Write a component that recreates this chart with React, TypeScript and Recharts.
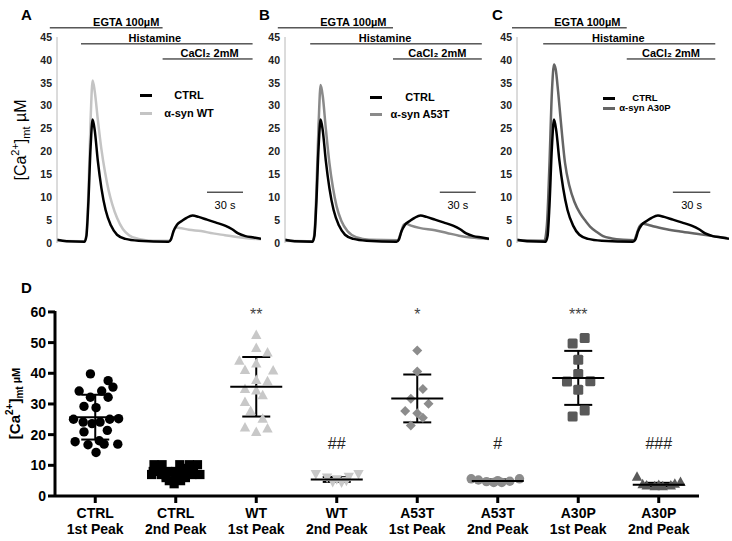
import React from 'react';
import {
  LineChart, Line, XAxis, YAxis, ReferenceLine, Legend, Label,
  ScatterChart, Scatter, ErrorBar,
} from 'recharts';

const FONT = 'Arial, "Liberation Sans", Helvetica, sans-serif';

// ---------- Panels A–C : [time (s), [Ca2+]mt (µM)]
const ctrlTrace: [number, number][] = [
  [0, 0.7], [8, 0.4], [23, 0.3], [24.5, 1.5], [26, 8], [28, 21], [29.7, 27], [31.5, 24.5],
  [34, 18], [37, 12], [40.5, 7.2], [45, 3.8], [50, 1.8], [57, 0.9], [68, 0.5], [93, 0.3],
  [95, 0.8], [97, 2.5], [100, 4.0], [104, 4.8], [108, 5.5], [113, 6.0], [118, 5.7], [125, 5.1],
  [132, 4.5], [140, 3.8], [146, 3.0], [151, 2.1], [157, 1.5], [164, 1.2], [170, 0.9],
];
const wtTrace: [number, number][] = [
  [0, 0.5], [23, 0.4], [24.5, 2], [26, 10], [28, 27], [29.7, 35.5], [31.5, 33], [34, 27],
  [37, 20.5], [40, 15.5], [43, 11.5], [46, 8.5], [50, 5.5], [55, 3], [60, 1.7], [68, 0.9],
  [80, 0.5], [94, 0.5], [96, 1.6], [98.5, 3.4], [102, 3.3], [110, 2.9], [120, 2.6], [130, 2.1],
  [140, 1.7], [150, 1.3], [160, 1.0], [170, 0.8],
];
const a53tTrace: [number, number][] = [
  [0, 0.5], [23, 0.4], [24.5, 2], [26, 10], [28, 26], [29.7, 34.5], [31.5, 32], [34, 25],
  [37, 17.5], [40, 12], [43, 8], [47, 4.8], [52, 2.6], [60, 1.2], [70, 0.7], [94, 0.6],
  [96, 1.8], [99, 4.0], [101, 4.2], [105, 3.8], [112, 3.3], [125, 2.8], [135, 2.2], [145, 1.6],
  [155, 1.2], [170, 0.9],
];
const a30pTrace: [number, number][] = [
  [0, 0.6], [22, 0.5], [24, 4], [26, 17], [28, 33], [29.7, 39], [31, 38], [33, 33], [35, 27],
  [38.5, 17.5], [42, 12.5], [46, 9], [50.5, 6.5], [55, 4.8], [58.6, 3.6], [64, 2.4], [69, 1.5],
  [76, 1.0], [85, 0.7], [94, 0.6], [96, 2], [98, 3.5], [101, 4.2], [105, 4.0], [110, 3.6],
  [120, 3.0], [131, 2.5], [144, 2.0], [157, 1.5], [168, 1.1],
];
const traceYTicks = [0, 5, 10, 15, 20, 25, 30, 35, 40, 45];

// treatments: [label, start s, end s, level µM]
const treatmentsA: [string, number, number, number][] = [
  ['EGTA 100µM', -6, 88, 47], ['Histamine', 20, 163, 43.5], ['CaCl₂ 2mM', 88, 163, 40.2],
];
const treatmentsB: [string, number, number, number][] = [
  ['EGTA 100µM', -6, 90, 47], ['Histamine', 21, 164, 43.5], ['CaCl₂ 2mM', 90, 164, 40.2],
];
const treatmentsC: [string, number, number, number][] = [
  ['EGTA 100µM', -4, 88, 47], ['Histamine', 21, 159, 43.5], ['CaCl₂ 2mM', 88, 159, 40.2],
];
// 30 s scale bars: [start s, end s, level µM]
const scaleBarA: [number, number, number] = [125, 155, 11.1];
const scaleBarB: [number, number, number] = [129, 159, 11.1];
const scaleBarC: [number, number, number] = [125, 155, 11.1];

// ---------- Panel D
const catLine1 = ['CTRL', 'CTRL', 'WT', 'WT', 'A53T', 'A53T', 'A30P', 'A30P'];
const catLine2 = ['1st Peak', '2nd Peak', '1st Peak', '2nd Peak', '1st Peak', '2nd Peak', '1st Peak', '2nd Peak'];
// [value µM, horizontal spread within column]
const ctrl1st: [number, number][] = [
  [39.8, -0.06], [37.6, 0.16], [35.5, 0.22], [34.2, -0.2], [34.2, 0.08], [32.2, -0.06], [32.2, 0.16],
  [29.2, -0.14], [28.8, 0.01], [25.0, -0.27], [24.1, -0.15], [23.6, -0.04], [24.1, 0.06], [25.0, 0.18],
  [25.2, 0.29], [20.9, -0.14], [21.4, 0.15], [17.7, -0.25], [18.0, 0.05], [16.7, -0.09], [16.9, 0.11],
  [16.9, 0.28], [14.2, 0.01],
];
const ctrl2nd: [number, number][] = [
  [10.2, -0.27], [10.2, -0.17], [10.2, 0.05], [10.2, 0.17], [10.2, 0.27],
  [9.0, -0.2], [9.0, 0.1], [9.0, 0.22],
  [8.0, -0.28], [8.0, -0.1], [8.0, 0.0], [8.0, 0.15],
  [7.0, -0.3], [7.0, -0.18], [7.0, 0.06], [7.0, 0.2], [7.0, 0.3],
  [6.0, -0.12], [6.0, 0.0], [6.0, 0.12], [5.0, -0.08], [5.0, 0.06], [4.0, -0.02],
];
const wt1st: [number, number][] = [
  [52.5, 0], [48.2, 0], [46.8, 0.14], [44.1, -0.21], [43.2, 0], [41.1, -0.14], [40.9, 0.21],
  [37.8, 0], [37.4, 0.14], [34.9, -0.14], [34.4, 0], [32.8, 0.08], [30.6, -0.14], [27.7, -0.07],
  [25.2, 0.08], [22.3, -0.14], [20.9, 0], [22.0, 0.14],
];
const wt2nd: [number, number][] = [
  [7.2, -0.26], [7.2, 0.27], [6.0, -0.12], [5.5, 0.0], [5.0, 0.12], [4.6, -0.05], [4.4, 0.06], [6.3, 0.15],
];
const a53t1st: [number, number][] = [
  [47.4, 0], [40.6, 0], [34.9, 0.07], [31.7, -0.08], [30.1, 0.14], [27.7, -0.15], [27.0, 0],
  [25.5, 0.07], [23.0, -0.08],
];
const a53t2nd: [number, number][] = [
  [5.6, -0.33], [5.2, -0.24], [4.7, -0.14], [4.4, -0.05], [4.4, 0.05], [4.8, 0.15], [5.6, 0.27], [5.0, 0.0],
];
const a30p1st: [number, number][] = [
  [51.5, 0.08], [49.7, -0.07], [44.4, 0], [39.8, 0], [37.3, -0.14], [37.4, 0.15], [34.6, 0],
  [27.9, 0.08], [25.9, -0.07],
];
const a30p2nd: [number, number][] = [
  [6.3, -0.27], [4.6, 0.27], [3.4, -0.15], [3.2, -0.05], [3.2, 0.05], [3.4, 0.15], [3.8, -0.2], [4.0, 0.2], [3.6, 0.0],
];
// mean, SD per column
const colMeans = [25.7, 7.0, 35.6, 5.4, 31.8, 4.9, 38.5, 3.7];
const colSDs = [7.3, 1.6, 9.7, 0.8, 7.8, 0.5, 8.8, 0.6];
// significance marks: [column, text, level µM]
const sigMarks: [number, string, number][] = [
  [2, '**', 60.3], [4, '*', 60.3], [6, '***', 60.3],
  [3, '##', 17.2], [5, '#', 17.2], [7, '###', 17.2],
];
const dYTicks = [0, 10, 20, 30, 40, 50, 60];

const toTrace = (a: [number, number][]) => a.map(([t, v]) => ({ t, v }));
const toCol = (a: [number, number][], col: number) => a.map(([v, o]) => ({ x: col + o, y: v }));

// ---------- helpers
const CaLabel = ({ x, y, size, bold }: any) => {
  const small = Math.round(size * 0.66);
  return (
    <text transform={`rotate(-90, ${x}, ${y})`} x={x} y={y} textAnchor="middle"
      fontSize={size} fontWeight={bold ? 'bold' : 'normal'} fontFamily={FONT} fill="#000">
      [Ca<tspan dy={-size * 0.42} fontSize={small}>2+</tspan>
      <tspan dy={size * 0.42}>]</tspan>
      <tspan dy={size * 0.22} fontSize={small}>mt</tspan>
      <tspan dy={-size * 0.22} fontSize={bold ? small + 1 : size}> µM</tspan>
    </text>
  );
};

const TreatLabel = ({ viewBox, value, dx }: any) => {
  if (!viewBox) return null;
  const cx = viewBox.x + viewBox.width / 2 + (dx || 0);
  return (
    <text x={cx} y={viewBox.y - 2} textAnchor="middle" fontSize={11} fontWeight="bold"
      fontFamily={FONT} fill="#000">{value}</text>
  );
};

const ScaleLabel = ({ viewBox }: any) => {
  if (!viewBox) return null;
  return (
    <text x={viewBox.x + viewBox.width / 2} y={viewBox.y + 17} textAnchor="middle" fontSize={11}
      fontFamily={FONT} fill="#000">30 s</text>
  );
};

const TraceLegend = ({ items, rowH, fontSize, textW }: any) => (
  <div style={{ fontFamily: FONT }}>
    {items.map((it: any) => (
      <div key={it.name} style={{ display: 'flex', alignItems: 'center', height: rowH }}>
        <div style={{ width: 12, height: 3, background: it.color }} />
        <div style={{ width: textW, marginLeft: 4, textAlign: 'center', fontSize, fontWeight: 'bold', lineHeight: rowH + 'px', whiteSpace: 'nowrap' }}>{it.name}</div>
      </div>
    ))}
  </div>
);

const panels = [
  {
    letter: 'A', left: 0, width: 266, mLeft: 7, axisW: 50, mRight: 5, yLabel: true,
    series: [{ name: 'CTRL', color: '#000', data: ctrlTrace }, { name: 'α-syn WT', color: '#c4c4c4', data: wtTrace }],
    treatments: treatmentsA, dxs: [20, -12, 2], scaleBar: scaleBarA,
    legend: { left: 140, top: 86, rowH: 18, fontSize: 11, textW: 66 },
  },
  {
    letter: 'B', left: 240, width: 254, mLeft: 5, axisW: 40, mRight: 5, yLabel: false,
    series: [{ name: 'CTRL', color: '#000', data: ctrlTrace }, { name: 'α-syn A53T', color: '#8a8a8a', data: a53tTrace }],
    treatments: treatmentsB, dxs: [18, -11, 0], scaleBar: scaleBarB,
    legend: { left: 130, top: 89, rowH: 17, fontSize: 11, textW: 68 },
  },
  {
    letter: 'C', left: 475, width: 257, mLeft: 2, axisW: 40, mRight: 3, yLabel: false,
    series: [{ name: 'CTRL', color: '#000', data: ctrlTrace }, { name: 'α-syn A30P', color: '#656565', data: a30pTrace }],
    treatments: treatmentsC, dxs: [18, -11, 0], scaleBar: scaleBarC,
    legend: { left: 128, top: 93, rowH: 10, fontSize: 9.5, textW: 52 },
  },
];

function TracePanel({ p }: any) {
  const series = [...p.series].reverse(); // gray underneath, black on top
  return (
    <div style={{ position: 'absolute', left: p.left, top: 0 }}>
      <LineChart width={p.width} height={250} margin={{ top: 37, right: p.mRight, bottom: 7, left: p.mLeft }}>
        <XAxis type="number" dataKey="t" domain={[0, 170]} ticks={[0, 50, 100, 150]} hide allowDataOverflow />
        <YAxis type="number" domain={[0, 45]} ticks={traceYTicks} interval={0} width={p.axisW}
          axisLine={{ stroke: '#b8b8b8' }} tickLine={false} tickSize={0} tickMargin={5}
          tick={{ fontSize: 10.5, fontWeight: 'bold', fill: '#222', fontFamily: FONT }}>
          {p.yLabel && (
            <Label content={(lp: any) => (
              <CaLabel x={lp.viewBox.x + 19} y={lp.viewBox.y + lp.viewBox.height / 2} size={16} bold={false} />
            )} />
          )}
        </YAxis>
        {series.map((s: any) => (
          <Line key={s.name} data={toTrace(s.data)} dataKey="v" type="monotone" stroke={s.color}
            strokeWidth={2.5} dot={false} isAnimationActive={false} />
        ))}
        {p.treatments.map(([name, a, b, lvl]: any, i: number) => (
          <ReferenceLine key={name} segment={[{ x: a, y: lvl }, { x: b, y: lvl }]} stroke="#000" strokeWidth={1}
            ifOverflow="visible" label={<TreatLabel value={name} dx={p.dxs[i]} />} />
        ))}
        <ReferenceLine segment={[{ x: p.scaleBar[0], y: p.scaleBar[2] }, { x: p.scaleBar[1], y: p.scaleBar[2] }]}
          stroke="#000" strokeWidth={1} ifOverflow="visible" label={<ScaleLabel />} />
        <Legend layout="vertical" align="center" verticalAlign="middle"
          wrapperStyle={{ left: p.legend.left, top: p.legend.top, width: 100 }}
          content={() => <TraceLegend items={p.series} rowH={p.legend.rowH} fontSize={p.legend.fontSize} textW={p.legend.textW} />} />
      </LineChart>
    </div>
  );
}

const Marker = ({ cx, cy, kind, color }: any) => {
  if (cx == null || cy == null) return null;
  switch (kind) {
    case 'circle':
      return <circle cx={cx} cy={cy} r={4.7} fill={color} />;
    case 'square':
      return <rect x={cx - 4.6} y={cy - 4.6} width={9.2} height={9.2} fill={color} />;
    case 'squareR':
      return <rect x={cx - 5} y={cy - 5} width={10} height={10} rx={1.5} fill={color} />;
    case 'triUp':
      return <polygon points={`${cx},${cy - 5.5} ${cx + 5.2},${cy + 4} ${cx - 5.2},${cy + 4}`} fill={color} />;
    case 'triDown':
      return <polygon points={`${cx},${cy + 5.5} ${cx + 5.2},${cy - 4} ${cx - 5.2},${cy - 4}`} fill={color} />;
    case 'diamond':
      return <polygon points={`${cx},${cy - 5} ${cx + 5},${cy} ${cx},${cy + 5} ${cx - 5},${cy}`} fill={color} />;
    default:
      return null;
  }
};

const groups = [
  { data: ctrl1st, col: 0, kind: 'circle', color: '#000' },
  { data: ctrl2nd, col: 1, kind: 'square', color: '#000' },
  { data: wt1st, col: 2, kind: 'triUp', color: '#c8c8c8' },
  { data: wt2nd, col: 3, kind: 'triDown', color: '#c8c8c8' },
  { data: a53t1st, col: 4, kind: 'diamond', color: '#8c8c8c' },
  { data: a53t2nd, col: 5, kind: 'circle', color: '#8c8c8c' },
  { data: a30p1st, col: 6, kind: 'squareR', color: '#595959' },
  { data: a30p2nd, col: 7, kind: 'triUp', color: '#595959' },
];

const summary = colMeans.map((m, i) => ({ x: i, y: m, err: colSDs[i] }));
const sigData = sigMarks.map(([c, txt, lvl]) => ({ x: c, y: lvl, txt }));

const MeanLine = ({ cx, cy }: any) =>
  cx == null ? null : <line x1={cx - 26} x2={cx + 26} y1={cy} y2={cy} stroke="#000" strokeWidth={2} />;

const SigText = ({ cx, cy, payload }: any) => {
  if (cx == null) return null;
  const star = payload.txt.startsWith('*');
  return (
    <text x={cx} y={cy + (star ? 9.2 : 5.6)} textAnchor="middle" fontSize={16} fontFamily={FONT}
      fill={star ? '#444' : '#222'}>{payload.txt}</text>
  );
};

const CatTick = ({ x, y, payload }: any) => {
  const i = Math.round(payload.value);
  return (
    <text x={x} y={y} textAnchor="middle" fontSize={14} fontWeight="bold" fontFamily={FONT} fill="#000">
      <tspan x={x} dy={13}>{catLine1[i]}</tspan>
      <tspan x={x} dy={16}>{catLine2[i]}</tspan>
    </text>
  );
};

function PanelD() {
  return (
    <div style={{ position: 'absolute', left: 0, top: 270 }}>
      <ScatterChart width={732} height={271} margin={{ top: 41, right: 33, bottom: 5, left: 10 }}>
        <XAxis type="number" dataKey="x" domain={[-0.5, 7.5]} ticks={[0, 1, 2, 3, 4, 5, 6, 7]} interval={0}
          allowDataOverflow height={40} axisLine={{ stroke: '#000', strokeWidth: 3 }}
          tickLine={{ stroke: '#000', strokeWidth: 3 }} tickSize={7} tickMargin={2} tick={<CatTick />} />
        <YAxis type="number" dataKey="y" domain={[0, 60]} ticks={dYTicks} interval={0} width={45}
          axisLine={{ stroke: '#000', strokeWidth: 3 }} tickLine={{ stroke: '#000', strokeWidth: 3 }}
          tickSize={7} tickMargin={2}
          tick={{ fontSize: 14, fontWeight: 'bold', fill: '#000', fontFamily: FONT }}>
          <Label content={(lp: any) => (
            <CaLabel x={lp.viewBox.x + 9.5} y={lp.viewBox.y + lp.viewBox.height / 2} size={15} bold />
          )} />
        </YAxis>
        {groups.map((g) => (
          <Scatter key={g.col} data={toCol(g.data, g.col)} isAnimationActive={false}
            shape={(sp: any) => <Marker cx={sp.cx} cy={sp.cy} kind={g.kind} color={g.color} />} />
        ))}
        <Scatter data={summary} isAnimationActive={false} shape={<MeanLine />}>
          <ErrorBar dataKey="err" direction="y" width={14} stroke="#000" strokeWidth={2} />
        </Scatter>
        <Scatter data={sigData} isAnimationActive={false} shape={<SigText />} />
      </ScatterChart>
    </div>
  );
}

const letterStyle = (left: number, top: number): React.CSSProperties => ({
  position: 'absolute', left, top, fontSize: 15, fontWeight: 'bold', fontFamily: FONT, lineHeight: '15px',
});

export default function App() {
  return (
    <div style={{ position: 'absolute', left: 0, top: 0, width: 732, height: 541, background: '#fff', fontFamily: FONT, overflow: 'hidden' }}>
      {panels.map((p) => <TracePanel key={p.letter} p={p} />)}
      <PanelD />
      <div style={letterStyle(21, 7)}>A</div>
      <div style={letterStyle(259, 7)}>B</div>
      <div style={letterStyle(492, 7)}>C</div>
      <div style={letterStyle(21, 280)}>D</div>
    </div>
  );
}
